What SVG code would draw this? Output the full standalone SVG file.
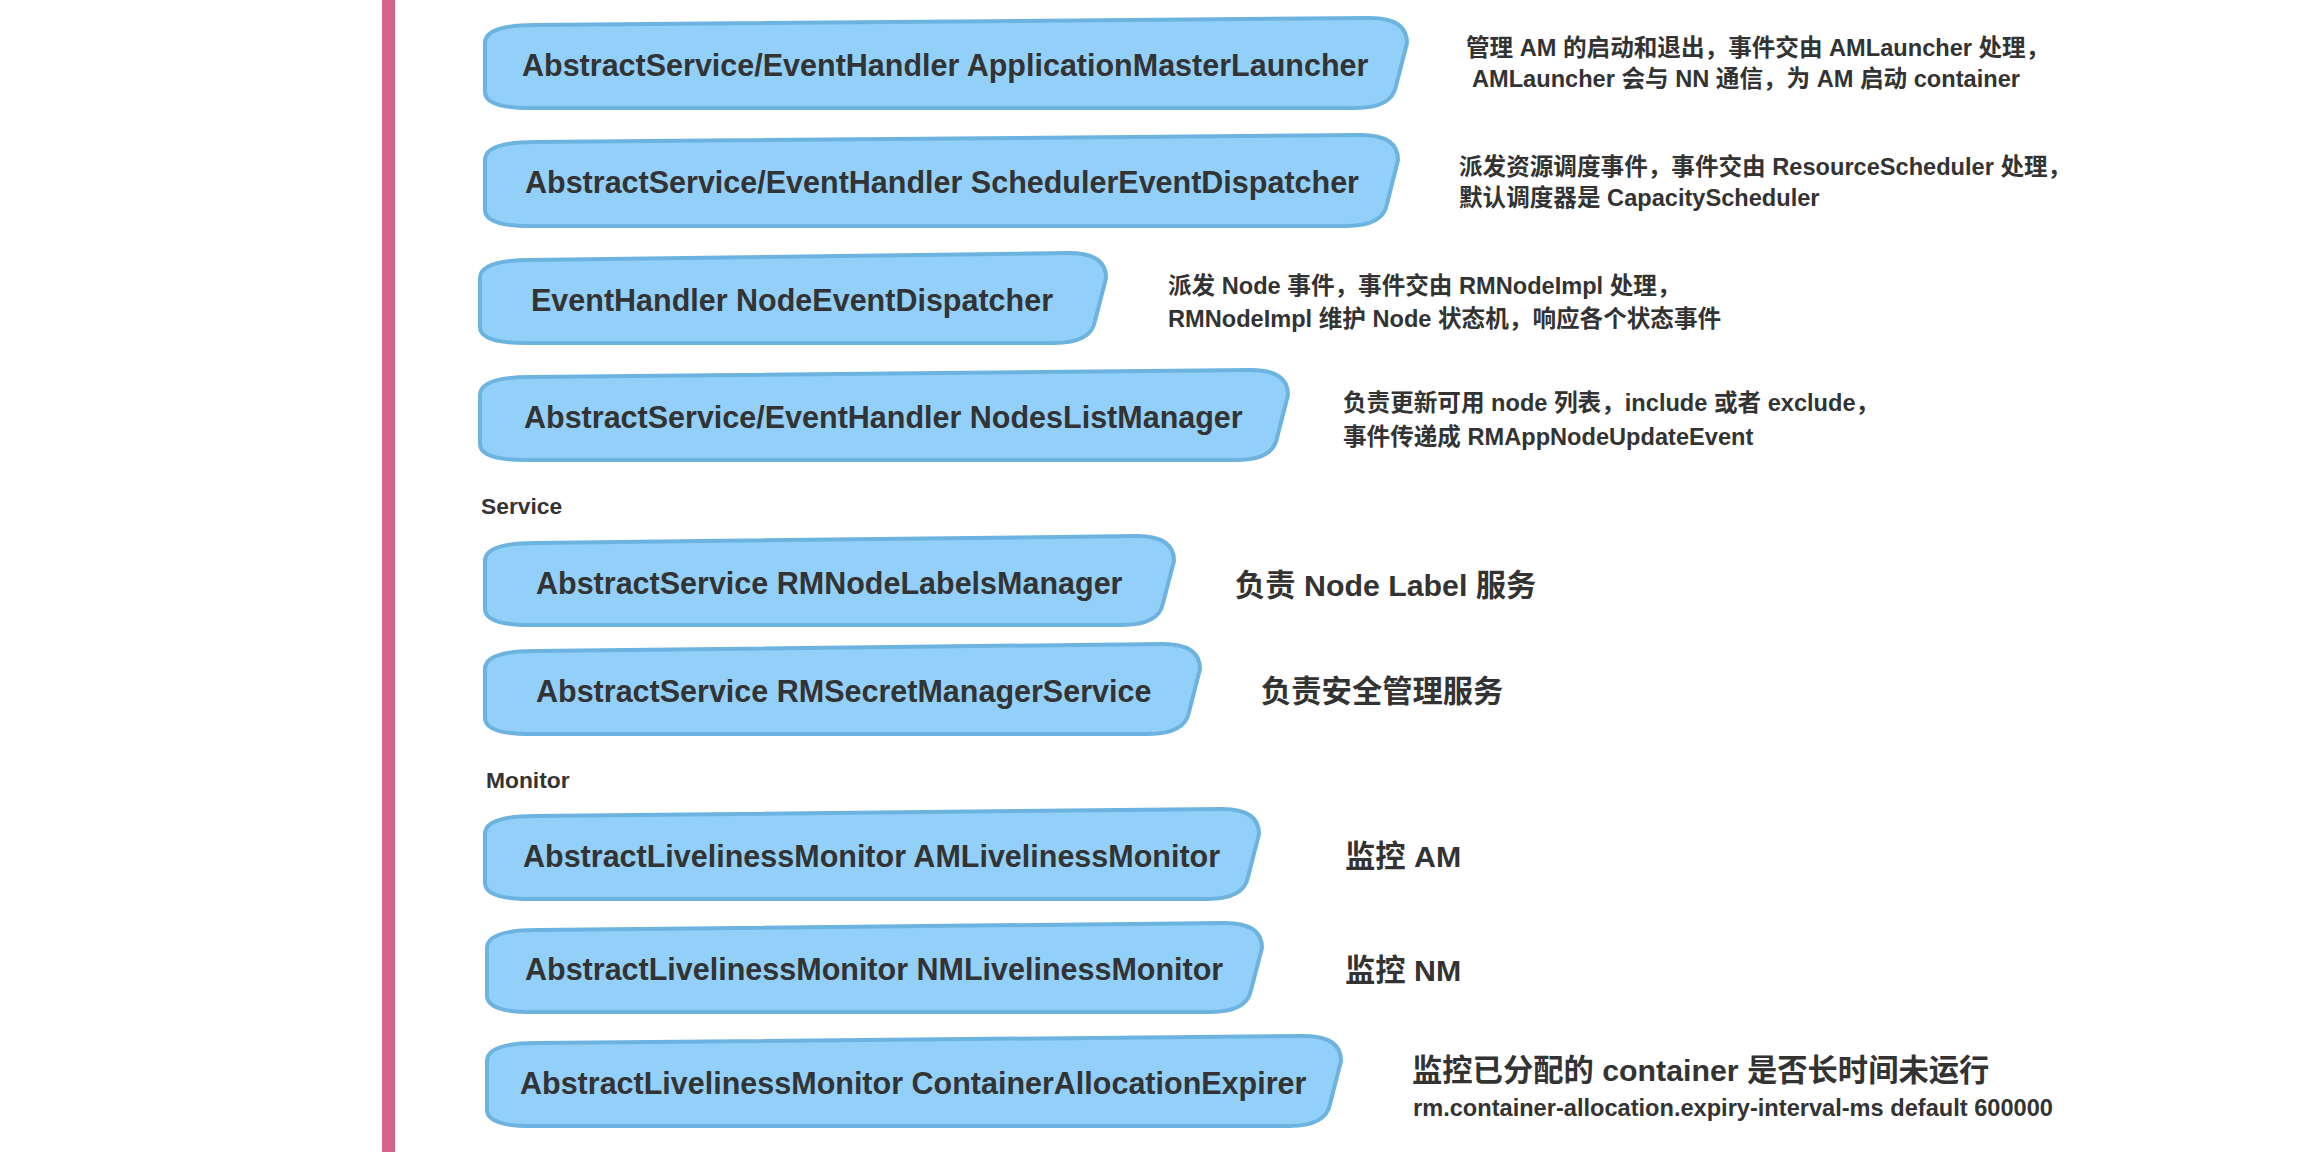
<svg xmlns="http://www.w3.org/2000/svg" width="2310" height="1152" viewBox="0 0 2310 1152">
<style>
.box{fill:#92D0F9;stroke:#6DB3E0;stroke-width:4;stroke-linejoin:round}
.bt{font-family:"Liberation Sans","Noto Sans CJK SC",sans-serif;font-weight:bold;font-size:30.5px;fill:#333333}
.ds{font-family:"Liberation Sans","Noto Sans CJK SC",sans-serif;font-weight:bold;font-size:23.6px;fill:#333333}
.dl{font-family:"Liberation Sans","Noto Sans CJK SC",sans-serif;font-weight:bold;font-size:30.3px;fill:#333333}
.lb{font-family:"Liberation Sans","Noto Sans CJK SC",sans-serif;font-weight:bold;font-size:22.8px;fill:#333333}
</style>
<rect x="0" y="0" width="2310" height="1152" fill="#FFFFFF"/>
<rect id="timeline" x="382" y="0" width="13" height="1152" fill="#D6648A"/>
<g id="connectors"/>

<g id="node-applicationmasterlauncher">
<path class="box" d="M485,43 Q485,25 535,25 L1370,18 Q1407,18 1407,43 L1396,86 Q1392,108 1355,108 L530,108 Q485,108 485,92 Z"/>
<text class="bt" x="522" y="76">AbstractService/EventHandler ApplicationMasterLauncher</text>
</g>
<g id="desc-applicationmasterlauncher">
<text class="ds" x="1466" y="56">管理 AM 的启动和退出，事件交由 AMLauncher 处理，</text>
<text class="ds" x="1472" y="87">AMLauncher 会与 NN 通信，为 AM 启动 container</text>
</g>

<g id="node-schedulereventdispatcher">
<path class="box" d="M485,160 Q485,142 535,142 L1361,135 Q1398,135 1398,160 L1387,204 Q1383,226 1346,226 L530,226 Q485,226 485,210 Z"/>
<text class="bt" x="525" y="193">AbstractService/EventHandler SchedulerEventDispatcher</text>
</g>
<g id="desc-schedulereventdispatcher">
<text class="ds" x="1459" y="175">派发资源调度事件，事件交由 ResourceScheduler 处理，</text>
<text class="ds" x="1459" y="206">默认调度器是 CapacityScheduler</text>
</g>

<g id="node-nodeeventdispatcher">
<path class="box" d="M480,278 Q480,260 530,260 L1069,253 Q1106,253 1106,278 L1095,321 Q1091,343 1054,343 L525,343 Q480,343 480,327 Z"/>
<text class="bt" x="531" y="311">EventHandler NodeEventDispatcher</text>
</g>
<g id="desc-nodeeventdispatcher">
<text class="ds" x="1168" y="294">派发 Node 事件，事件交由 RMNodeImpl 处理，</text>
<text class="ds" x="1168" y="327">RMNodeImpl 维护 Node 状态机，响应各个状态事件</text>
</g>

<g id="node-nodeslistmanager">
<path class="box" d="M480,395 Q480,377 530,377 L1251,370 Q1288,370 1288,395 L1277,438 Q1273,460 1236,460 L525,460 Q480,460 480,444 Z"/>
<text class="bt" x="524" y="428">AbstractService/EventHandler NodesListManager</text>
</g>
<g id="desc-nodeslistmanager">
<text class="ds" x="1343" y="411">负责更新可用 node 列表，include 或者 exclude，</text>
<text class="ds" x="1343" y="445">事件传递成 RMAppNodeUpdateEvent</text>
</g>

<g id="label-service">
<text class="lb" x="481" y="514">Service</text>
</g>

<g id="node-rmnodelabelsmanager">
<path class="box" d="M485,561 Q485,543 535,543 L1137,536 Q1174,536 1174,561 L1163,603 Q1159,625 1122,625 L530,625 Q485,625 485,609 Z"/>
<text class="bt" x="536" y="594">AbstractService RMNodeLabelsManager</text>
</g>
<g id="desc-rmnodelabelsmanager">
<text class="dl" x="1235" y="596">负责 Node Label 服务</text>
</g>

<g id="node-rmsecretmanagerservice">
<path class="box" d="M485,669 Q485,651 535,651 L1163,644 Q1200,644 1200,669 L1189,712 Q1185,734 1148,734 L530,734 Q485,734 485,718 Z"/>
<text class="bt" x="536" y="702">AbstractService RMSecretManagerService</text>
</g>
<g id="desc-rmsecretmanagerservice">
<text class="dl" x="1261" y="702">负责安全管理服务</text>
</g>

<g id="label-monitor">
<text class="lb" x="486" y="788">Monitor</text>
</g>

<g id="node-amlivelinessmonitor">
<path class="box" d="M485,834 Q485,816 535,816 L1222,809 Q1259,809 1259,834 L1248,877 Q1244,899 1207,899 L530,899 Q485,899 485,883 Z"/>
<text class="bt" x="523" y="867">AbstractLivelinessMonitor AMLivelinessMonitor</text>
</g>
<g id="desc-amlivelinessmonitor">
<text class="dl" x="1345" y="867">监控 AM</text>
</g>

<g id="node-nmlivelinessmonitor">
<path class="box" d="M487,948 Q487,930 537,930 L1225,923 Q1262,923 1262,948 L1251,990 Q1247,1012 1210,1012 L532,1012 Q487,1012 487,996 Z"/>
<text class="bt" x="525" y="980">AbstractLivelinessMonitor NMLivelinessMonitor</text>
</g>
<g id="desc-nmlivelinessmonitor">
<text class="dl" x="1345" y="981">监控 NM</text>
</g>

<g id="node-containerallocationexpirer">
<path class="box" d="M487,1061 Q487,1043 537,1043 L1304,1036 Q1341,1036 1341,1061 L1330,1104 Q1326,1126 1289,1126 L532,1126 Q487,1126 487,1110 Z"/>
<text class="bt" x="520" y="1094">AbstractLivelinessMonitor ContainerAllocationExpirer</text>
</g>
<g id="desc-containerallocationexpirer">
<text class="dl" x="1412" y="1081">监控已分配的 container 是否长时间未运行</text>
<text class="ds" x="1413" y="1116">rm.container-allocation.expiry-interval-ms default 600000</text>
</g>
</svg>
